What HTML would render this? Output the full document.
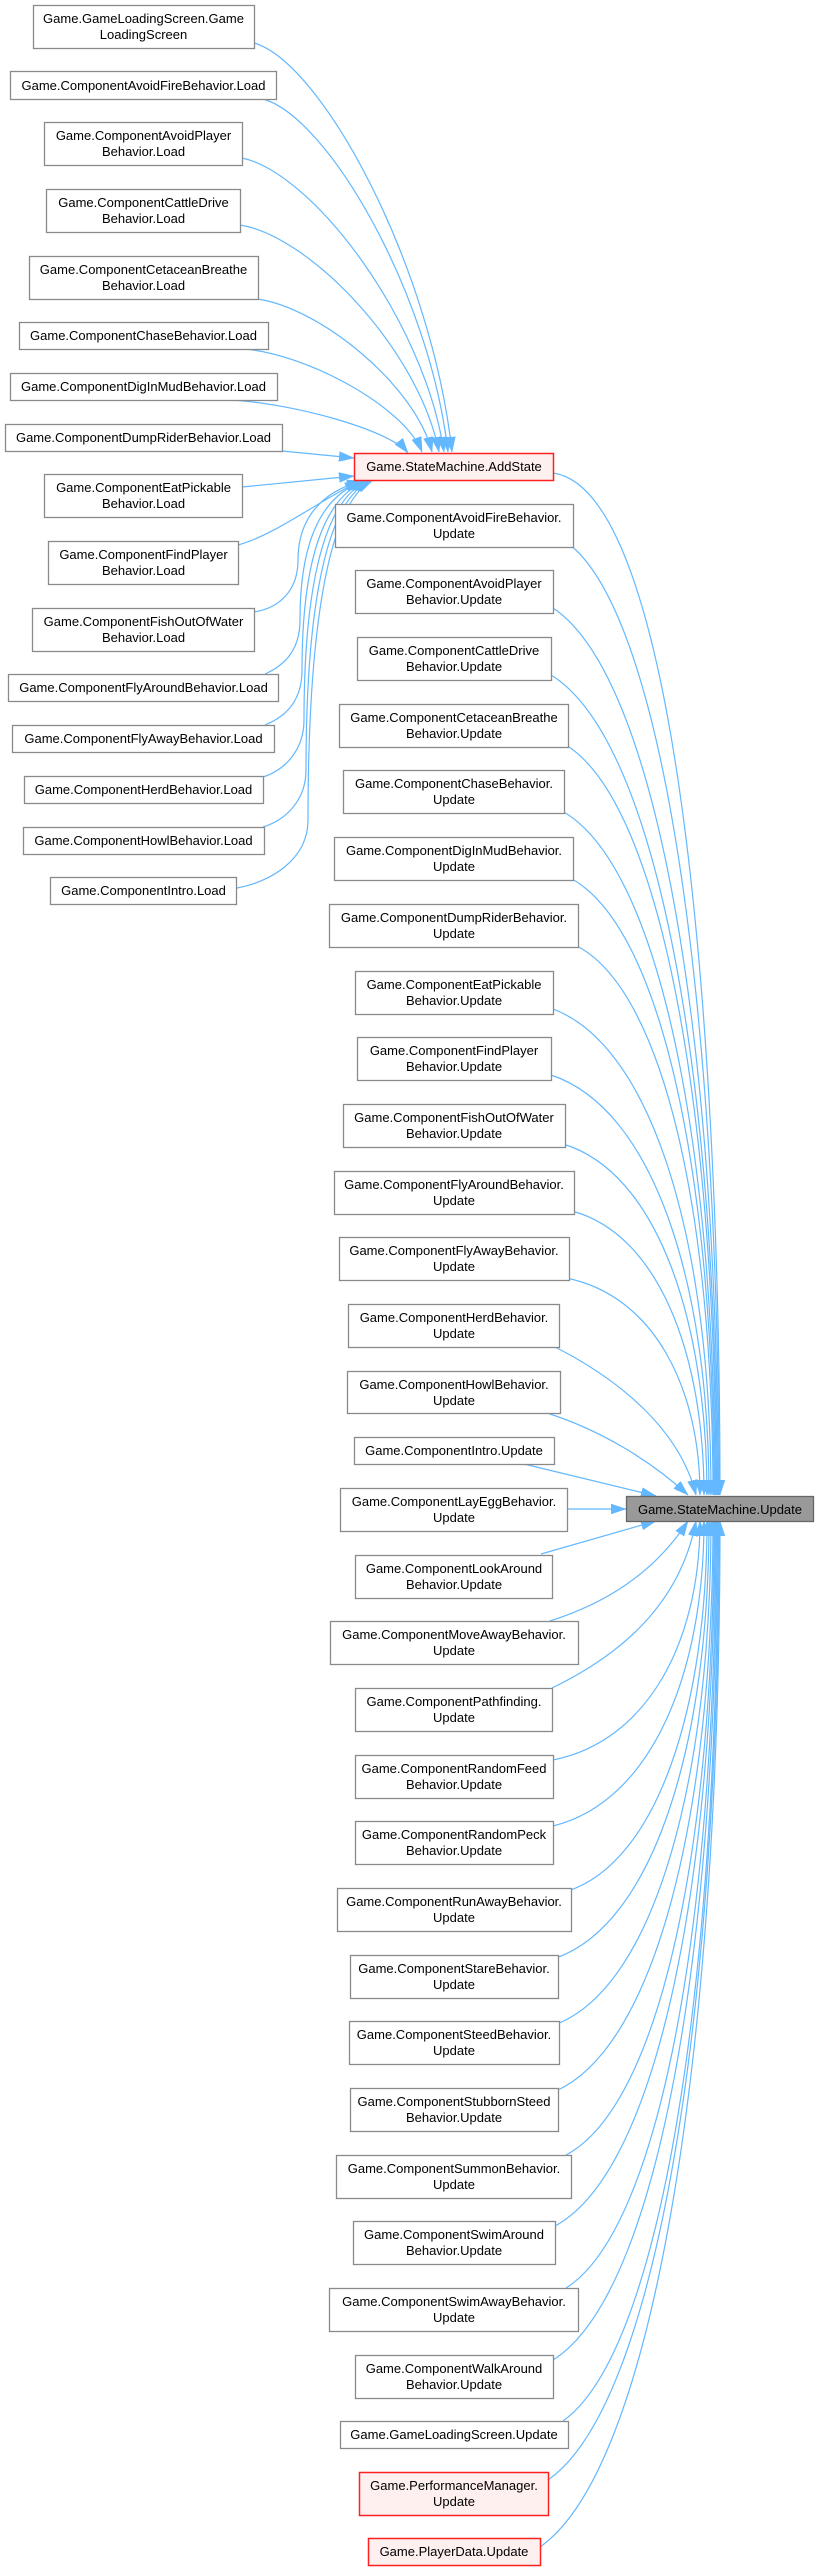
<!DOCTYPE html>
<html><head><meta charset="utf-8"><style>
html,body{margin:0;padding:0;background:#fff;}
svg{display:block;}
text{font-family:"Liberation Sans",Arial,sans-serif;font-size:13px;fill:#000;text-anchor:middle;}
.n{fill:#fff;stroke:#8a8a8a;stroke-width:1.3;}
.r{fill:#fff0f0;stroke:#ff2020;stroke-width:1.5;}
.c{fill:#999;stroke:#666;stroke-width:1.3;}
.e path{fill:none;stroke:#63b8ff;stroke-width:1.2;marker-end:url(#a);}
</style></head><body>
<svg width="818" height="2571" viewBox="0 0 818 2571" xmlns="http://www.w3.org/2000/svg">
<defs><marker id="a" viewBox="0 0 15 10" markerWidth="15" markerHeight="10" refX="15" refY="5" orient="auto" markerUnits="userSpaceOnUse"><path d="M0,0L15,5L0,10z" fill="#63b8ff" stroke="#63b8ff" stroke-width="0.5"/></marker></defs>

<g class="e">
<path d="M254,43 C323,63 432,268 452,452"/>
<path d="M263,99 C328,117 430,294 448,452"/>
<path d="M242,158 C313,173 424,320 444,452"/>
<path d="M240,225 C310,236 419,350 439,452"/>
<path d="M257,299 C318,307 415,384 432,452"/>
<path d="M244,349 C306,354 404,406 422,452"/>
<path d="M230,400 C292,403 390,430 408,453"/>
<path d="M282,451 L354,458"/>
<path d="M242,487 L354,476"/>
<path d="M238,545 C275,535 320,500 360,481"/>
<path d="M254,612 C280,608 298,590 298,560 C298,520 320,492 362,481"/>
<path d="M265,674 C285,665 300,650 300,620 C300,540 322,495 364,481"/>
<path d="M265,725 C287,716 302,700 302,670 C302,560 324,497 366,481"/>
<path d="M263,777 C285,770 304,750 304,720 C304,580 326,498 368,481"/>
<path d="M263,827 C286,820 306,800 306,770 C306,600 328,500 370,481"/>
<path d="M237,888 C270,882 308,860 308,820 C308,620 330,502 372,481"/>

<path d="M553,473 C680,490 720,1050 720,1495"/>
<path d="M569,544 C666,620 719,1020 719,1495"/>
<path d="M553,608 C660,679 718,1052 718,1495"/>
<path d="M551,675 C659,741 717,1085 717,1495"/>
<path d="M566,745 C663,805 716,1120 716,1495"/>
<path d="M562,811 C661,866 715,1153 715,1495"/>
<path d="M570,878 C664,927 714,1187 714,1495"/>
<path d="M575,945 C665,989 713,1220 713,1495"/>
<path d="M553,1009 C656,1048 711,1252 711,1495"/>
<path d="M551,1075 C654,1109 709,1285 709,1495"/>
<path d="M563,1144 C657,1172 707,1320 707,1495"/>
<path d="M572,1211 C658,1234 704,1353 704,1495"/>
<path d="M566,1278 C653,1295 700,1387 700,1495"/>
<path d="M555,1347 C620,1380 680,1430 696,1495"/>
<path d="M547,1413 C600,1430 650,1460 688,1495"/>
<path d="M524,1464 L656,1496"/>
<path d="M567,1509 L626,1509"/>
<path d="M541,1554 L656,1521"/>
<path d="M550,1621 C603,1604 653,1575 688,1521"/>
<path d="M552,1688 C620,1655 680,1605 696,1521"/>
<path d="M553,1760 C648,1741 700,1641 700,1521"/>
<path d="M553,1826 C651,1802 704,1674 704,1521"/>
<path d="M568,1891 C658,1861 707,1706 707,1521"/>
<path d="M556,1958 C655,1923 709,1740 709,1521"/>
<path d="M557,2024 C657,1984 711,1773 711,1521"/>
<path d="M556,2091 C658,2045 713,1806 713,1521"/>
<path d="M566,2155 C662,2104 714,1838 714,1521"/>
<path d="M555,2226 C659,2170 715,1874 715,1521"/>
<path d="M566,2288 C663,2227 716,1905 716,1521"/>
<path d="M553,2360 C660,2293 717,1941 717,1521"/>
<path d="M563,2421 C664,2349 718,1971 718,1521"/>
<path d="M548,2480 C659,2403 719,2001 719,1521"/>
<path d="M540,2547 C657,2465 720,2034 720,1521"/>
</g>

<!-- Left column -->
<rect class="n" x="33.5" y="5.5" width="221" height="43"/><text x="143.5" y="23">Game.GameLoadingScreen.Game</text><text x="143.5" y="39">LoadingScreen</text>
<rect class="n" x="10.5" y="71.5" width="266" height="28"/><text x="143.5" y="90">Game.ComponentAvoidFireBehavior.Load</text>
<rect class="n" x="44.5" y="122.5" width="198" height="43"/><text x="143.5" y="140">Game.ComponentAvoidPlayer</text><text x="143.5" y="156">Behavior.Load</text>
<rect class="n" x="46.5" y="189.5" width="194" height="43"/><text x="143.5" y="207">Game.ComponentCattleDrive</text><text x="143.5" y="223">Behavior.Load</text>
<rect class="n" x="29.5" y="256.5" width="229" height="43"/><text x="143.5" y="274">Game.ComponentCetaceanBreathe</text><text x="143.5" y="290">Behavior.Load</text>
<rect class="n" x="19.5" y="322.5" width="249" height="27"/><text x="143.5" y="340">Game.ComponentChaseBehavior.Load</text>
<rect class="n" x="10.5" y="373.5" width="267" height="27"/><text x="143.5" y="391">Game.ComponentDigInMudBehavior.Load</text>
<rect class="n" x="5.5" y="424.5" width="277" height="27"/><text x="143.5" y="442">Game.ComponentDumpRiderBehavior.Load</text>
<rect class="n" x="44.5" y="474.5" width="198" height="43"/><text x="143.5" y="492">Game.ComponentEatPickable</text><text x="143.5" y="508">Behavior.Load</text>
<rect class="n" x="48.5" y="541.5" width="190" height="43"/><text x="143.5" y="559">Game.ComponentFindPlayer</text><text x="143.5" y="575">Behavior.Load</text>
<rect class="n" x="32.5" y="608.5" width="222" height="43"/><text x="143.5" y="626">Game.ComponentFishOutOfWater</text><text x="143.5" y="642">Behavior.Load</text>
<rect class="n" x="8.5" y="674.5" width="270" height="27"/><text x="143.5" y="692">Game.ComponentFlyAroundBehavior.Load</text>
<rect class="n" x="12.5" y="725.5" width="262" height="27"/><text x="143.5" y="743">Game.ComponentFlyAwayBehavior.Load</text>
<rect class="n" x="24.5" y="776.5" width="239" height="27"/><text x="143.5" y="794">Game.ComponentHerdBehavior.Load</text>
<rect class="n" x="23.5" y="827.5" width="241" height="27"/><text x="143.5" y="845">Game.ComponentHowlBehavior.Load</text>
<rect class="n" x="50.5" y="877.5" width="186" height="27"/><text x="143.5" y="895">Game.ComponentIntro.Load</text>

<!-- AddState -->
<rect class="r" x="354.5" y="453.5" width="199" height="27"/><text x="454" y="471">Game.StateMachine.AddState</text>

<!-- Middle column -->
<rect class="n" x="335.5" y="504.5" width="238" height="43"/><text x="454" y="522">Game.ComponentAvoidFireBehavior.</text><text x="454" y="538">Update</text>
<rect class="n" x="355.5" y="570.5" width="198" height="43"/><text x="454" y="588">Game.ComponentAvoidPlayer</text><text x="454" y="604">Behavior.Update</text>
<rect class="n" x="357.5" y="637.5" width="194" height="43"/><text x="454" y="655">Game.ComponentCattleDrive</text><text x="454" y="671">Behavior.Update</text>
<rect class="n" x="339.5" y="704.5" width="229" height="43"/><text x="454" y="722">Game.ComponentCetaceanBreathe</text><text x="454" y="738">Behavior.Update</text>
<rect class="n" x="343.5" y="770.5" width="221" height="43"/><text x="454" y="788">Game.ComponentChaseBehavior.</text><text x="454" y="804">Update</text>
<rect class="n" x="334.5" y="837.5" width="239" height="43"/><text x="454" y="855">Game.ComponentDigInMudBehavior.</text><text x="454" y="871">Update</text>
<rect class="n" x="329.5" y="904.5" width="249" height="43"/><text x="454" y="922">Game.ComponentDumpRiderBehavior.</text><text x="454" y="938">Update</text>
<rect class="n" x="355.5" y="971.5" width="198" height="43"/><text x="454" y="989">Game.ComponentEatPickable</text><text x="454" y="1005">Behavior.Update</text>
<rect class="n" x="357.5" y="1037.5" width="194" height="43"/><text x="454" y="1055">Game.ComponentFindPlayer</text><text x="454" y="1071">Behavior.Update</text>
<rect class="n" x="343.5" y="1104.5" width="222" height="43"/><text x="454" y="1122">Game.ComponentFishOutOfWater</text><text x="454" y="1138">Behavior.Update</text>
<rect class="n" x="334.5" y="1171.5" width="240" height="43"/><text x="454" y="1189">Game.ComponentFlyAroundBehavior.</text><text x="454" y="1205">Update</text>
<rect class="n" x="339.5" y="1237.5" width="230" height="43"/><text x="454" y="1255">Game.ComponentFlyAwayBehavior.</text><text x="454" y="1271">Update</text>
<rect class="n" x="348.5" y="1304.5" width="211" height="43"/><text x="454" y="1322">Game.ComponentHerdBehavior.</text><text x="454" y="1338">Update</text>
<rect class="n" x="347.5" y="1371.5" width="213" height="42"/><text x="454" y="1389">Game.ComponentHowlBehavior.</text><text x="454" y="1405">Update</text>
<rect class="n" x="354.5" y="1437.5" width="200" height="27"/><text x="454" y="1455">Game.ComponentIntro.Update</text>
<rect class="n" x="340.5" y="1488.5" width="227" height="43"/><text x="454" y="1506">Game.ComponentLayEggBehavior.</text><text x="454" y="1522">Update</text>
<rect class="n" x="355.5" y="1555.5" width="197" height="43"/><text x="454" y="1573">Game.ComponentLookAround</text><text x="454" y="1589">Behavior.Update</text>
<rect class="n" x="330.5" y="1621.5" width="248" height="43"/><text x="454" y="1639">Game.ComponentMoveAwayBehavior.</text><text x="454" y="1655">Update</text>
<rect class="n" x="355.5" y="1688.5" width="197" height="43"/><text x="454" y="1706">Game.ComponentPathfinding.</text><text x="454" y="1722">Update</text>
<rect class="n" x="355.5" y="1755.5" width="198" height="43"/><text x="454" y="1773">Game.ComponentRandomFeed</text><text x="454" y="1789">Behavior.Update</text>
<rect class="n" x="355.5" y="1821.5" width="198" height="43"/><text x="454" y="1839">Game.ComponentRandomPeck</text><text x="454" y="1855">Behavior.Update</text>
<rect class="n" x="337.5" y="1888.5" width="234" height="43"/><text x="454" y="1906">Game.ComponentRunAwayBehavior.</text><text x="454" y="1922">Update</text>
<rect class="n" x="350.5" y="1955.5" width="208" height="43"/><text x="454" y="1973">Game.ComponentStareBehavior.</text><text x="454" y="1989">Update</text>
<rect class="n" x="349.5" y="2021.5" width="210" height="43"/><text x="454" y="2039">Game.ComponentSteedBehavior.</text><text x="454" y="2055">Update</text>
<rect class="n" x="350.5" y="2088.5" width="208" height="43"/><text x="454" y="2106">Game.ComponentStubbornSteed</text><text x="454" y="2122">Behavior.Update</text>
<rect class="n" x="336.5" y="2155.5" width="235" height="43"/><text x="454" y="2173">Game.ComponentSummonBehavior.</text><text x="454" y="2189">Update</text>
<rect class="n" x="353.5" y="2221.5" width="202" height="43"/><text x="454" y="2239">Game.ComponentSwimAround</text><text x="454" y="2255">Behavior.Update</text>
<rect class="n" x="329.5" y="2288.5" width="249" height="43"/><text x="454" y="2306">Game.ComponentSwimAwayBehavior.</text><text x="454" y="2322">Update</text>
<rect class="n" x="355.5" y="2355.5" width="198" height="43"/><text x="454" y="2373">Game.ComponentWalkAround</text><text x="454" y="2389">Behavior.Update</text>
<rect class="n" x="340.5" y="2421.5" width="228" height="27"/><text x="454" y="2439">Game.GameLoadingScreen.Update</text>
<rect class="r" x="359.5" y="2472.5" width="189" height="43"/><text x="454" y="2490">Game.PerformanceManager.</text><text x="454" y="2506">Update</text>
<rect class="r" x="368.5" y="2538.5" width="172" height="27"/><text x="454" y="2556">Game.PlayerData.Update</text>

<!-- Target -->
<rect class="c" x="626.5" y="1496.5" width="187" height="25"/><text x="720" y="1514">Game.StateMachine.Update</text>
</svg>
</body></html>
